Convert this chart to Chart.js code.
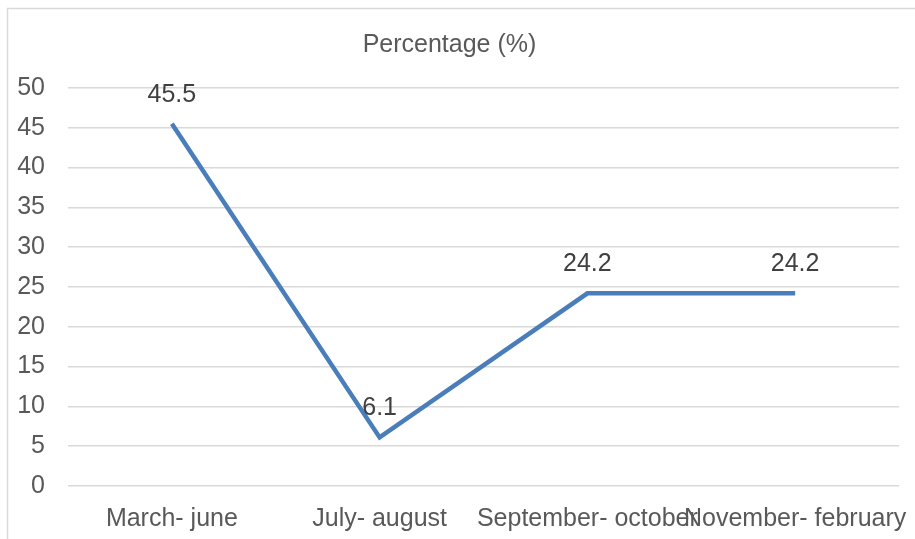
<!DOCTYPE html>
<html>
<head>
<meta charset="utf-8">
<script src="https://cdn.jsdelivr.net/npm/chart.js@4/dist/chart.umd.min.js"></script>
<style>
  html, body { margin: 0; padding: 0; background: #ffffff; }
  #wrap { width: 915px; height: 539px; }
</style>
</head>
<body>
<div id="wrap"><canvas id="chart" width="915" height="539"></canvas></div>
<script>
// Data
const periods = ['March- june', 'July- august', 'September- october', 'November- february'];
const percentages = [45.5, 6.1, 24.2, 24.2];
const yTicks = [0, 5, 10, 15, 20, 25, 30, 35, 40, 45, 50];

const textColor = '#595959';
const fontFamily = '"Liberation Sans", Arial, sans-serif';

// outer frame of the chart
const framePlugin = {
    id: 'frame',
    beforeDraw(chart) {
        const ctx = chart.ctx;
        ctx.save();
        ctx.strokeStyle = '#d9d9d9';
        ctx.lineWidth = 1.5;
        ctx.strokeRect(7.5, 8.5, 1000, 1000);
        ctx.restore();
    }
};

// value labels above each point
const valueLabels = {
    id: 'valueLabels',
    afterDatasetsDraw(chart) {
        const ctx = chart.ctx;
        const meta = chart.getDatasetMeta(0);
        ctx.save();
        ctx.font = '25px ' + fontFamily;
        ctx.fillStyle = '#404040';
        ctx.textAlign = 'center';
        ctx.textBaseline = 'alphabetic';
        meta.data.forEach((pt, i) => {
            ctx.fillText(String(percentages[i]), pt.x, pt.y - 22);
        });
        ctx.restore();
    }
};

new Chart(document.getElementById('chart'), {
    type: 'line',
    data: {
        labels: periods,
        datasets: [{
            label: 'Percentage (%)',
            data: percentages,
            borderColor: '#4a7ebb',
            borderWidth: 4.5,
            borderJoinStyle: 'miter',
            pointRadius: 0,
            tension: 0,
            fill: false
        }]
    },
    options: {
        responsive: false,
        animation: false,
        layout: { padding: { left: 0, right: 16, top: 0, bottom: 0 } },
        plugins: {
            legend: { display: false },
            tooltip: { enabled: false },
            title: {
                display: true,
                text: 'Percentage (%)',
                color: textColor,
                font: { family: fontFamily, size: 25, weight: 'normal', lineHeight: 1.2 },
                padding: { top: 30, bottom: 28 }
            }
        },
        scales: {
            x: {
                offset: true,
                grid: { display: false, drawTicks: false },
                border: { display: false },
                ticks: {
                    color: textColor,
                    font: { family: fontFamily, size: 25 },
                    padding: 18,
                    autoSkip: false,
                    maxRotation: 0,
                    minRotation: 0
                },
                afterFit(scale) {
                    scale.height = 53;
                    scale.paddingLeft = 0;
                    scale.paddingRight = 0;
                }
            },
            y: {
                min: 0,
                max: 50,
                afterBuildTicks(scale) { scale.ticks = yTicks.map(v => ({ value: v })); },
                grid: { color: '#d9d9d9', lineWidth: 1.5, drawTicks: false },
                border: { display: false },
                ticks: {
                    color: textColor,
                    font: { family: fontFamily, size: 25 },
                    padding: 23
                },
                afterFit(scale) { scale.width = 68; }
            }
        }
    },
    plugins: [framePlugin, valueLabels]
});
</script>
</body>
</html>
